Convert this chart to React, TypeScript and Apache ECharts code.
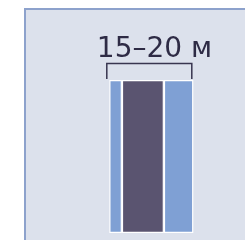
import React, { useEffect, useRef } from "react";
import * as echarts from "echarts";

const categories = ["15–20 м"];
const segLeft = [3];
const segMid = [10];
const segRight = [7];
const axisMax = 20;
const labelText = "15–20 м";

export default function App() {
  const ref = useRef<HTMLDivElement>(null);
  useEffect(() => {
    if (!ref.current) return;
    const chart = echarts.init(ref.current, undefined, { renderer: "svg" });
    const mk = (name: string, data: number[], color: string) => ({
      name,
      type: "bar",
      stack: "s",
      data,
      barWidth: "100%",
      itemStyle: { color, borderColor: "#ffffff", borderWidth: 1.2 },
      emphasis: { disabled: true },
    });
    const top = 80;
    chart.setOption({
      animation: false,
      grid: { left: 109.3, top, width: 84, height: 153, containLabel: false },
      xAxis: { type: "value", min: 0, max: axisMax, show: false },
      yAxis: { type: "category", data: categories, show: false },
      series: [
        mk("a", segLeft, "#7FA0D4"),
        mk("b", segMid, "#5A5470"),
        mk("c", segRight, "#7FA0D4"),
      ],
    });
    const x0 = chart.convertToPixel({ xAxisIndex: 0 }, 0) as number;
    const x1 = chart.convertToPixel({ xAxisIndex: 0 }, axisMax) as number;
    const bx0 = x0 - 2.5;
    const bx1 = x1 - 1.5;
    chart.setOption({
      graphic: [
        {
          type: "rect",
          z: -10,
          silent: true,
          shape: { x: 25, y: 9, width: 400, height: 400 },
          style: { fill: "#DCE1EC", stroke: "#8DA2CC", lineWidth: 2 },
        },
        {
          type: "polyline",
          silent: true,
          shape: { points: [[bx0, top - 1], [bx0, top - 16.5], [bx1, top - 16.5], [bx1, top - 1]] },
          style: { stroke: "#38354F", lineWidth: 1.5, fill: null },
        },
        {
          type: "text",
          silent: true,
          x: 154.5,
          y: 61,
          style: {
            text: labelText,
            fill: "#2E2B45",
            fontFamily: "DejaVu Sans",
            fontSize: 28,
            align: "center",
            verticalAlign: "bottom",
          },
        },
      ],
    });
    return () => chart.dispose();
  }, []);
  return (
    <div
      ref={ref}
      style={{ position: "fixed", left: 0, top: 0, width: 245, height: 240 }}
    />
  );
}
